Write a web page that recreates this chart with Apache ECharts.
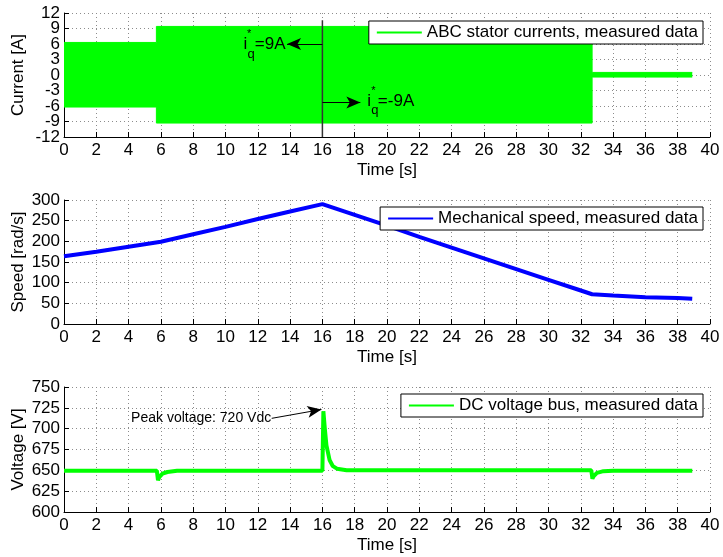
<!DOCTYPE html>
<html>
<head>
<meta charset="utf-8">
<script src="https://cdn.jsdelivr.net/npm/echarts@6/dist/echarts.min.js"></script>
<style>html,body{margin:0;padding:0;background:#fff}#c{width:723px;height:557px}</style>
</head>
<body>
<div id="c"></div>
<script>
// ---- Data ----
// Top: envelope of the ABC stator currents band [A]
const curT  = [0, 5.72, 5.72, 32.7, 32.7, 38.9];
const curHi = [6.3, 6.3, 9.4, 9.4, 0.5, 0.5];
const curLo = [-6.2, -6.2, -9.3, -9.3, -0.4, -0.4];
// Marker line at t=16 s and the two arrows
const markT = [16, 16];
const markV = [10.6, -12];
const arrow1 = [[16, 6.0], [13.81, 6.0]];
const arrow2 = [[16, -5.3], [18.35, -5.3]];
// Middle: mechanical speed [rad/s]
const spT = [0, 2, 4, 6, 8, 10, 12, 14, 16, 18, 20, 22, 24, 26, 28, 30, 32, 32.7, 34, 36, 38, 38.9];
const spV = [164, 175, 187, 199, 217, 235, 254, 272, 290, 264, 238, 211, 185, 159, 133, 107, 81, 72, 69, 65, 63, 61];
// Bottom: DC bus voltage [V]
const vT = [0, 5.75, 5.82, 5.9, 6.1, 6.4, 7.0, 8, 16.0, 16.06, 16.15, 16.25, 16.45, 16.65, 16.9, 17.5, 32.65, 32.72, 32.8, 33.0, 33.4, 34, 38.9];
const vV = [649.5, 649.5, 638, 642, 646, 648, 649.5, 649.5, 649.5, 721, 700, 680, 662, 655, 652, 650, 650, 640, 643, 647, 649, 649.5, 649.5];
const peakArrow = [[12.86, 712.4], [15.94, 723]];
// Axis ticks
const xTicks = {min: 0, max: 40, interval: 2};
const yTicks = [
  {min: -12, max: 12, interval: 3},
  {min: 0, max: 300, interval: 50},
  {min: 600, max: 750, interval: 25}
];
const yNames = ['Current [A]', 'Speed [rad/s]', 'Voltage [V]'];
const legendNames = ['ABC stator currents, measured data', 'Mechanical speed, measured data', 'DC voltage bus, measured data'];

const zip = (a, b) => a.map((v, i) => [v, b[i]]);
const FONT = "'Liberation Sans', Arial, Helvetica, sans-serif";
const GREEN = '#00ff00';
const BLUE = '#0000ff';
const FS = 17;

const gridTops = [13, 200, 387];
const gridHeights = [124, 124, 125];

const grids = gridTops.map((t, i) => ({left: 64, right: 13, top: t, height: gridHeights[i], containLabel: false, outerBoundsMode: 'none'}));

const splitLine = {show: true, lineStyle: {color: '#8c8c8c', type: [1, 3], width: 1}};
const xAxes = gridTops.map((t, i) => ({
  type: 'value', gridIndex: i, min: xTicks.min, max: xTicks.max, interval: xTicks.interval,
  name: 'Time [s]', nameLocation: 'middle', nameGap: 25, nameMoveOverlap: false,
  nameTextStyle: {color: '#000', fontSize: FS, fontFamily: FONT},
  axisLine: {show: true, onZero: false, lineStyle: {color: '#000', width: 1}},
  axisTick: {show: true, inside: true, length: 5, interval: 0, lineStyle: {color: '#000'}},
  axisLabel: {color: '#000', fontSize: FS, fontFamily: FONT, margin: 5, interval: 0, showMinLabel: true, showMaxLabel: true, hideOverlap: false},
  splitLine: splitLine
}));
// top grid: labels split over two coincident axes so none is dropped by the overlap check
const topMain = v => (Math.abs(v) % 6 === 0 ? String(v) : '');
const topAlt = v => (Math.abs(v) % 6 === 0 ? '' : String(v));
const yAxes = yTicks.map((yt, i) => ({
  type: 'value', gridIndex: i, min: yt.min, max: yt.max, interval: yt.interval,
  name: yNames[i], nameLocation: 'middle', nameGap: 37, nameMoveOverlap: false,
  nameTextStyle: {color: '#000', fontSize: FS, fontFamily: FONT},
  axisLine: {show: true, onZero: false, lineStyle: {color: '#000', width: 1}},
  axisTick: {show: true, inside: true, length: 5, interval: 0, lineStyle: {color: '#000'}},
  axisLabel: {color: '#000', fontSize: FS, fontFamily: FONT, margin: 4, interval: 0, showMinLabel: true, showMaxLabel: true, hideOverlap: false,
              formatter: i === 0 ? topMain : undefined},
  splitLine: splitLine
}));
yAxes.push({
  type: 'value', gridIndex: 0, position: 'left', min: yTicks[0].min, max: yTicks[0].max, interval: yTicks[0].interval,
  axisLine: {show: false, onZero: false},
  axisTick: {show: true, inside: true, length: 5, interval: 0, lineStyle: {color: '#000'}},
  axisLabel: {color: '#000', fontSize: FS, fontFamily: FONT, margin: 4, interval: 0, showMinLabel: false, showMaxLabel: false, hideOverlap: false,
              formatter: topAlt},
  splitLine: {show: false}
});

const legendTops = [21, 207, 394];
const legends = legendNames.map((n, i) => ({
  data: [n], right: 20, top: legendTops[i], orient: 'horizontal',
  icon: 'rect', itemWidth: 45, itemHeight: 2,
  padding: [3, 5, 3, 8],
  backgroundColor: '#fff', borderColor: '#000', borderWidth: 1, borderRadius: 0,
  textStyle: {color: '#000', fontSize: FS, fontFamily: FONT},
  selectedMode: false
}));

const arrowML = (pairs, xi, yi) => ({
  type: 'line', xAxisIndex: xi, yAxisIndex: yi, data: [], silent: true,
  markLine: {
    silent: true, symbol: ['none', 'arrow'], symbolSize: [9, 14],
    label: {show: false},
    lineStyle: {color: '#000', type: 'solid', width: 1},
    data: pairs.map(p => [{coord: p[0]}, {coord: p[1]}])
  }
});

const option = {
  animation: false,
  backgroundColor: '#fff',
  grid: grids,
  xAxis: xAxes,
  yAxis: yAxes,
  legend: legends,
  series: [
    {name: legendNames[0], type: 'line', xAxisIndex: 0, yAxisIndex: 0, data: zip(curT, curHi),
     symbol: 'none', lineStyle: {color: GREEN, width: 1}, itemStyle: {color: GREEN},
     areaStyle: {color: GREEN, opacity: 1}, z: 2},
    {name: 'lower', type: 'line', xAxisIndex: 0, yAxisIndex: 0, data: zip(curT, curLo),
     symbol: 'none', lineStyle: {color: GREEN, width: 1}, itemStyle: {color: GREEN},
     areaStyle: {color: GREEN, opacity: 1}, z: 2},
    {name: 'marker', type: 'line', xAxisIndex: 0, yAxisIndex: 0, data: zip(markT, markV),
     symbol: 'none', lineStyle: {color: '#333', width: 1.5}, z: 3},
    arrowML([arrow1, arrow2], 0, 0),
    {name: legendNames[1], type: 'line', xAxisIndex: 1, yAxisIndex: 1, data: zip(spT, spV),
     symbol: 'none', lineStyle: {color: BLUE, width: 4}, itemStyle: {color: BLUE}},
    {name: legendNames[2], type: 'line', xAxisIndex: 2, yAxisIndex: 2, data: zip(vT, vV),
     symbol: 'none', lineStyle: {color: GREEN, width: 4}, itemStyle: {color: GREEN}},
    arrowML([peakArrow], 2, 2)
  ]
};

const chart = echarts.init(document.getElementById('c'), null, {renderer: 'canvas'});
chart.setOption(option);

// Annotations positioned through the axes' scales
const txt = (x, y, s, size, align, va) => ({
  type: 'text', silent: true, z: 100,
  style: {x: x, y: y, text: s, fill: '#000', font: size + 'px ' + FONT, align: align, verticalAlign: va || 'middle'}
});
const A = chart.convertToPixel({gridIndex: 0}, arrow1[1]);
const B = chart.convertToPixel({gridIndex: 0}, arrow2[1]);
const P = chart.convertToPixel({gridIndex: 2}, peakArrow[0]);
const g = [
  txt(A[0] - 43.5, A[1], 'i', 17, 'left'),
  txt(A[0] - 38, A[1] - 10, '*', 11, 'center'),
  txt(A[0] - 39.5, A[1] + 10.5, 'q', 13, 'left'),
  txt(A[0] - 1.5, A[1], '=9A', 17, 'right'),
  txt(B[0] + 7, B[1] - 1.5, 'i', 17, 'left'),
  txt(B[0] + 13, B[1] - 11.5, '*', 11, 'center'),
  txt(B[0] + 11, B[1] + 8.5, 'q', 13, 'left'),
  txt(B[0] + 17.5, B[1] - 1.5, '=-9A', 17, 'left'),
  txt(P[0] - 0.5, P[1] - 0.5, 'Peak voltage: 720 Vdc', 14, 'right')
];
chart.setOption({graphic: g});
</script>
</body>
</html>
